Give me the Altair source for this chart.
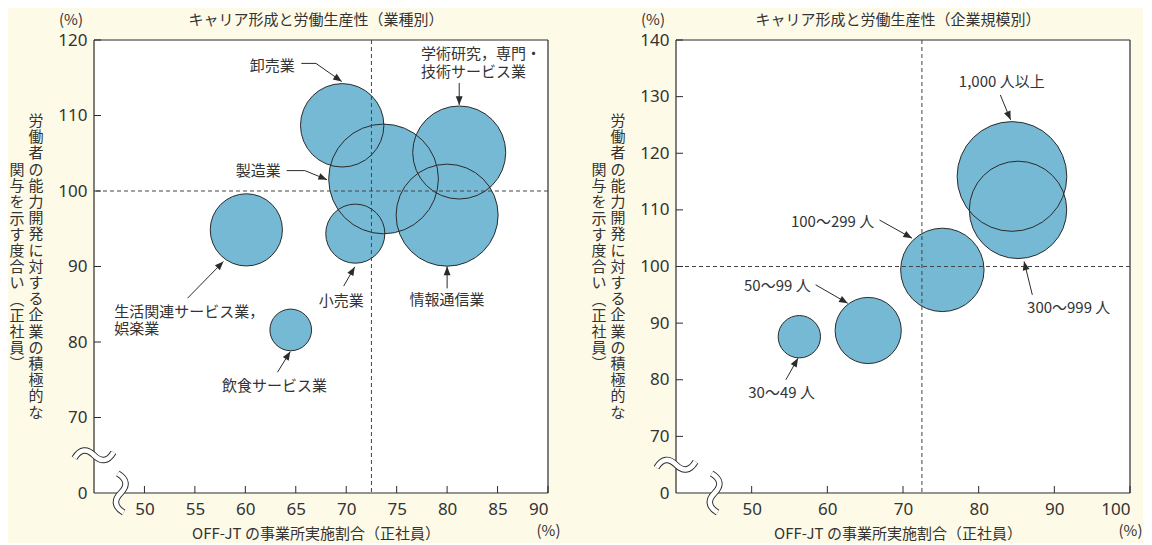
import math
import altair as alt
import pandas as pd

W, H = 454, 453
BG = "#fefae8"
BUBBLE = "#76b9d4"
INK = "#2b2b2b"
TXT = "#333333"
JP = "Noto Sans CJK JP"
NUM = "Noto Sans"

# ---------------- left panel: by industry ----------------
ind_names = ["卸売業", "製造業", "学術研究，専門・技術サービス業", "情報通信業",
             "小売業", "生活関連サービス業，娯楽業", "飲食サービス業"]
ind_offjt = [69.6, 73.7, 81.2, 80.0, 70.9, 60.1, 64.5]
ind_index = [108.7, 101.6, 105.1, 96.8, 94.35, 94.85, 81.6]
ind_weight = [57.8, 100, 71.9, 86.5, 29.0, 43.3, 14.4]

ind_label_text = ["卸売業", "製造業", "学術研究，専門・", "技術サービス業",
                  "生活関連サービス業，", "娯楽業", "小売業", "情報通信業", "飲食サービス業"]
ind_label_x = [64.9, 63.5, 77.4, 77.4, 47.0, 47.0, 69.5, 80.0, 62.9]
ind_label_y = [116.6, 102.7, 118.2, 115.8, 84.0, 81.7, 85.45, 85.6, 74.2]
ind_label_align = ["right", "right", "left", "left", "left", "left", "center", "center", "center"]

ind_arrows = [
    [(65.55, 116.9), (67.0, 116.9), (69.56, 114.5)],
    [(64.1, 102.7), (65.9, 102.7), (68.1, 101.5)],
    [(81.2, 114.3), (81.2, 111.4)],
    [(54.27, 85.8), (57.83, 90.66)],
    [(69.75, 87.4), (70.84, 89.95)],
    [(80.0, 87.1), (80.0, 90.0)],
    [(63.19, 76.0), (64.46, 78.74)],
]

# ---------------- right panel: by firm size ----------------
size_names = ["1,000 人以上", "300〜999 人", "100〜299 人", "50〜99 人", "30〜49 人"]
size_offjt = [84.4, 85.2, 75.2, 65.4, 56.3]
size_index = [115.9, 110.0, 99.4, 88.7, 87.6]
size_weight = [100, 78.8, 57.8, 36.4, 14.9]

size_label_text = ["1,000 人以上", "100〜299 人", "300〜999 人", "50〜99 人", "30〜49 人"]
size_label_x = [83.05, 66.2, 91.9, 57.8, 53.95]
size_label_y = [132.6, 107.9, 92.65, 96.5, 77.65]
size_label_align = ["center", "right", "center", "right", "center"]

size_arrows = [
    [(82.86, 130.3), (84.22, 125.9)],
    [(66.9, 108.2), (71.2, 105.0)],
    [(87.09, 95.0), (86.0, 100.9)],
    [(58.45, 96.77), (62.7, 93.5)],
    [(54.52, 80.0), (56.12, 83.8)],
]

X_TITLE = "OFF-JT の事業所実施割合（正社員）"
Y_TITLE_R = "労働者の能力開発に対する企業の積極的な"
Y_TITLE_L = "関与を示す度合い︵正社員︶"

# symbol size is the area of the bounding square: (2r)^2
AMAX = (2 * 54.85) ** 2
ARROW_SHAPE = "M0,0 L-0.4,1 L0.4,1 Z"
WAVE_SHAPE = "M-1,0.15 C-0.7,-0.35 -0.35,-0.35 0,0 C0.35,0.35 0.7,0.35 1,-0.15"


def static_text(txt, px, py, size=15, align="center", baseline="middle",
                font=JP, lh=None):
    kw = dict(align=align, baseline=baseline, font=font, fontSize=size, color=TXT)
    if lh:
        kw.update(lineBreak="\n", lineHeight=lh)
    return alt.Chart(pd.DataFrame({"t": [txt]})).mark_text(**kw).encode(
        text="t:N", x=alt.value(px), y=alt.value(py))


def panel(title, names, xs_, ys_, ws, lab_t, lab_x, lab_y, lab_a, arrows,
          xdom, ydom, xticks, yticks, ybreak, xbreak):
    xsc = alt.Scale(domain=xdom, nice=False, zero=False)
    ysc = alt.Scale(domain=ydom, nice=False, zero=False)
    xax = alt.Axis(values=xticks, ticks=False, tickSize=0, domain=False, grid=False,
                   labelFont=NUM, labelFontSize=17, labelColor=TXT, labelPadding=8,
                   title=None)
    yax = alt.Axis(values=yticks, ticks=False, tickSize=0, domain=False, grid=False,
                   labelFont=NUM, labelFontSize=17, labelColor=TXT, labelPadding=7,
                   labelExpr="datum.value == 60 ? '0' : datum.label", title=None)

    def X(f):
        return alt.X(f, type="quantitative", scale=xsc, axis=xax)

    def Y(f):
        return alt.Y(f, type="quantitative", scale=ysc, axis=yax)

    sx = W / (xdom[1] - xdom[0])
    sy = H / (ydom[1] - ydom[0])

    bub = pd.DataFrame({"name": names, "x": xs_, "y": ys_, "w": ws})
    size_enc = alt.Size("w:Q", scale=alt.Scale(domain=[0, 100], range=[0, AMAX]), legend=None)

    fills = alt.Chart(bub).mark_circle(fill=BUBBLE, fillOpacity=1, opacity=1, strokeWidth=0).encode(
        x=X("x"), y=Y("y"), size=size_enc)
    outlines = alt.Chart(bub).mark_point(shape="circle", filled=False, stroke=INK,
                                         strokeWidth=1, opacity=1).encode(
        x=X("x"), y=Y("y"), size=size_enc)

    frame = pd.DataFrame({
        "x": [xdom[0], xdom[0], xdom[1], xdom[1]],
        "y": [ydom[0], ydom[1], ydom[1], ydom[0]],
        "x2": [xdom[0], xdom[1], xdom[1], xdom[0]],
        "y2": [ydom[1], ydom[1], ydom[0], ydom[0]],
    })
    frame_l = alt.Chart(frame).mark_rule(color=INK, strokeWidth=1.2).encode(
        x=X("x"), y=Y("y"), x2="x2", y2="y2")

    vref = alt.Chart(pd.DataFrame({"v": [72.5]})).mark_rule(
        color="#444444", strokeWidth=1, strokeDash=[4, 3]).encode(x=X("v"))
    href = alt.Chart(pd.DataFrame({"v": [100]})).mark_rule(
        color="#444444", strokeWidth=1, strokeDash=[4, 3]).encode(y=Y("v"))

    yt = alt.Chart(pd.DataFrame({"v": yticks[1:]})).mark_rule(color=INK, strokeWidth=1).encode(
        y=Y("v"), x=alt.value(0), x2=alt.value(7))
    xt = alt.Chart(pd.DataFrame({"v": xticks})).mark_rule(color=INK, strokeWidth=1).encode(
        x=X("v"), y=alt.value(H), y2=alt.value(H - 7))

    arr_rows, head_rows = [], []
    for i, pts in enumerate(arrows):
        for j, (ax, ay) in enumerate(pts):
            arr_rows.append({"id": i, "o": j, "x": ax, "y": ay})
        (x0, y0), (x1, y1) = pts[-2], pts[-1]
        ang = math.degrees(math.atan2((x1 - x0) * sx, (y1 - y0) * sy)) % 360
        head_rows.append({"x": x1, "y": y1, "a": ang})
    arr_lines = alt.Chart(pd.DataFrame(arr_rows)).mark_line(color=INK, strokeWidth=1).encode(
        x=X("x"), y=Y("y"), detail="id:N", order="o:O")
    heads = alt.Chart(pd.DataFrame(head_rows)).mark_point(
        shape=ARROW_SHAPE, filled=True, color=INK, opacity=1, size=300).encode(
        x=X("x"), y=Y("y"), angle=alt.Angle("a:Q", scale=None))

    labs = pd.DataFrame({"t": lab_t, "x": lab_x, "y": lab_y, "a": lab_a})
    label_layers = []
    for al in ["left", "center", "right"]:
        sub = labs[labs["a"] == al]
        if len(sub):
            label_layers.append(
                alt.Chart(sub).mark_text(align=al, baseline="middle", font=JP, fontSize=15,
                                         color=TXT).encode(x=X("x"), y=Y("y"), text="t:N"))

    brk = pd.DataFrame({"x": [ybreak[0], xbreak[0]], "y": [ybreak[1], xbreak[1]], "a": [0, 90]})
    brk_dark = alt.Chart(brk).mark_point(shape=WAVE_SHAPE, filled=False, stroke=INK,
                                         strokeWidth=6.5, opacity=1, size=1521).encode(
        x=X("x"), y=Y("y"), angle=alt.Angle("a:Q", scale=None))
    brk_white = alt.Chart(brk).mark_point(shape=WAVE_SHAPE, filled=False, stroke="white",
                                          strokeWidth=4.6, opacity=1, size=1521).encode(
        x=X("x"), y=Y("y"), angle=alt.Angle("a:Q", scale=None))

    texts = [
        static_text(title, 222, -20),
        static_text("(%)", -23, -20),
        static_text("(%)", W + 0.5, H + 38),
        static_text(X_TITLE, 222, H + 41),
        static_text("\n".join(Y_TITLE_R), -58, 74, baseline="top", lh=16.2),
        static_text("\n".join(Y_TITLE_L), -77, 123, baseline="top", lh=16.2),
    ]

    return alt.layer(fills, outlines, frame_l, vref, href, yt, xt, arr_lines, heads,
                     *label_layers, brk_dark, brk_white, *texts).properties(width=W, height=H)


left = panel("キャリア形成と労働生産性（業種別）", ind_names, ind_offjt, ind_index, ind_weight,
             ind_label_text, ind_label_x, ind_label_y, ind_label_align, ind_arrows,
             [45, 90], [60, 120], [50, 55, 60, 65, 70, 75, 80, 85, 90],
             [60, 70, 80, 90, 100, 110, 120], (45, 65), (47.65, 60))

right = panel("キャリア形成と労働生産性（企業規模別）", size_names, size_offjt, size_index, size_weight,
              size_label_text, size_label_x, size_label_y, size_label_align, size_arrows,
              [40, 100], [60, 140], [50, 60, 70, 80, 90, 100],
              [60, 70, 80, 90, 100, 110, 120, 130, 140], (40, 65), (45.1, 60))

chart = alt.hconcat(left, right, spacing=29).configure(
    background=BG, padding={"left": 0, "top": 4, "right": 0, "bottom": 0}
).configure_view(fill="white", stroke="transparent")

chart.save("out.html", embed_options={"renderer": "svg", "actions": False})
